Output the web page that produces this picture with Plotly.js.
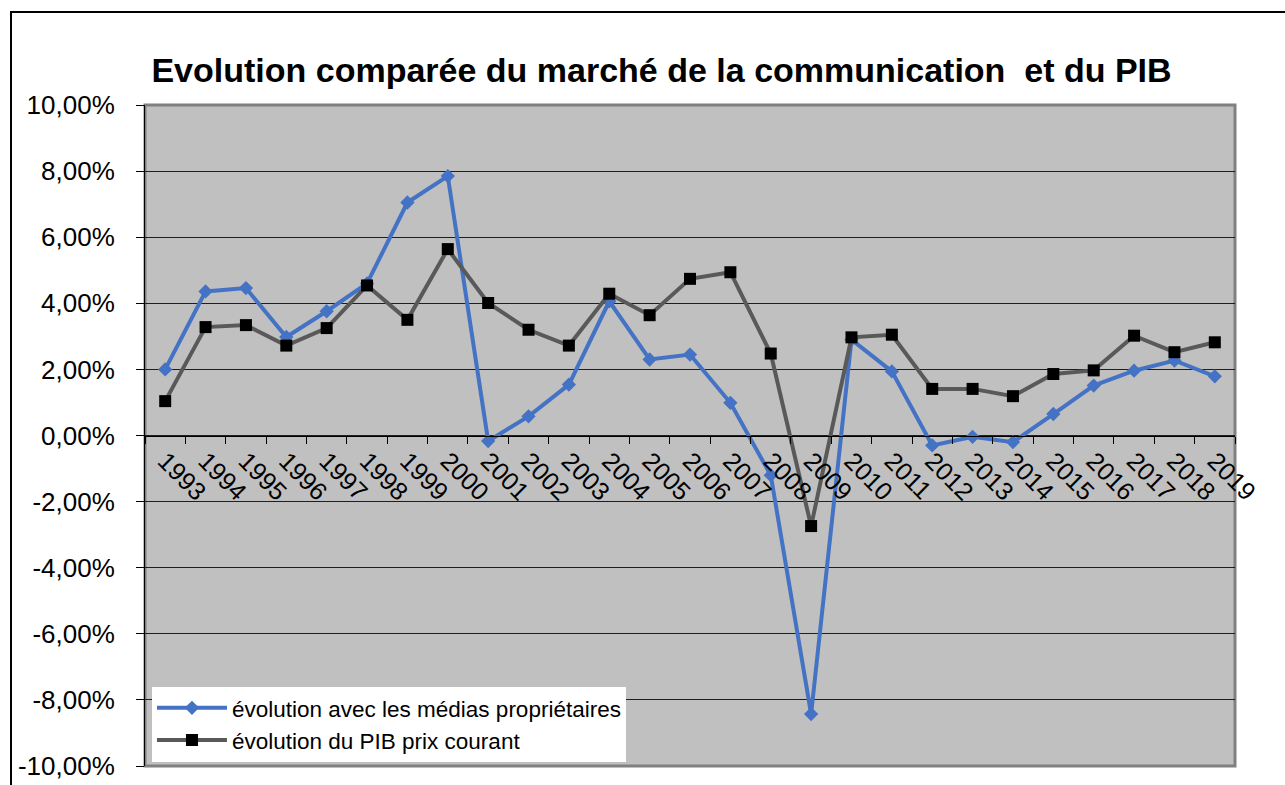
<!DOCTYPE html>
<html>
<head>
<meta charset="utf-8">
<script src="https://cdn.plot.ly/plotly-3.0.1.min.js"></script>
<style>
html,body{margin:0;padding:0;overflow:hidden;background:#fff;}
#chart{position:absolute;left:0;top:0;width:1285px;height:785px;}
#frame{position:absolute;left:10px;top:11px;width:2000px;height:2000px;border-left:2px solid #000;border-top:2px solid #000;pointer-events:none;}
</style>
</head>
<body>
<div id="chart"></div>
<div id="frame"></div>
<script>
const years = ['1993','1994','1995','1996','1997','1998','1999','2000','2001','2002','2003','2004','2005','2006','2007','2008','2009','2010','2011','2012','2013','2014','2015','2016','2017','2018','2019'];
const mediasProprietaires = [2.00,4.36,4.46,2.98,3.76,4.60,7.05,7.85,-0.17,0.58,1.54,4.06,2.30,2.45,0.99,-1.20,-8.43,2.90,1.94,-0.30,-0.04,-0.20,0.65,1.51,1.96,2.27,1.79];
const pibPrixCourant = [1.04,3.28,3.34,2.72,3.25,4.54,3.50,5.64,4.01,3.20,2.72,4.29,3.64,4.74,4.94,2.48,-2.74,2.97,3.05,1.41,1.41,1.19,1.86,1.97,3.02,2.52,2.82];
const yTickVals = [-10,-8,-6,-4,-2,0,2,4,6,8,10];
const yTickLabels = ['-10,00%','-8,00%','-6,00%','-4,00%','-2,00%','0,00%','2,00%','4,00%','6,00%','8,00%','10,00%'];
const seriesNames = ['évolution avec les médias propriétaires','évolution du PIB prix courant'];
const chartTitle = 'Evolution comparée du marché de la communication\u00a0 et du PIB';

const FONT = 'Liberation Sans, Arial, sans-serif';

const traces = [
  {
    x: years, y: mediasProprietaires, name: seriesNames[0], type: 'scatter', mode: 'lines+markers',
    line: {color: '#4472C4', width: 4},
    marker: {symbol: 'diamond', size: 11, color: '#4472C4'}
  },
  {
    x: years, y: pibPrixCourant, name: seriesNames[1], type: 'scatter', mode: 'lines+markers',
    line: {color: '#595959', width: 4},
    marker: {symbol: 'square', size: 12, color: '#000000'}
  }
];

const layout = {
  width: 1285, height: 785,
  margin: {l: 145, r: 50, t: 105, b: 19, pad: 0},
  paper_bgcolor: '#ffffff',
  plot_bgcolor: '#C0C0C0',
  font: {family: FONT, color: '#000'},
  showlegend: true,
  title: {
    text: chartTitle,
    font: {family: FONT, size: 34, color: '#000', weight: 'bold'},
    x: 0.5148, xref: 'container', xanchor: 'center',
    y: 0.911, yref: 'container', yanchor: 'middle'
  },
  xaxis: {
    type: 'category',
    anchor: 'free', position: 0.5,
    showgrid: false, zeroline: false,
    showline: true, linecolor: '#000', linewidth: 1,
    ticks: 'outside', ticklen: 7, tickcolor: '#000', tickwidth: 1,
    tickson: 'boundaries',
    tickangle: 45,
    tickfont: {family: FONT, size: 25, color: '#000'},
    range: [-0.5, 26.5],
    automargin: false
  },
  yaxis: {
    range: [-10, 10],
    tickvals: yTickVals, ticktext: yTickLabels,
    showgrid: true, gridcolor: '#1e1e1e', gridwidth: 1,
    zeroline: false,
    showline: true, linecolor: '#000', linewidth: 1,
    ticks: 'outside', ticklen: 8, tickcolor: '#000', tickwidth: 1,
    ticklabelstandoff: 16,
    tickfont: {family: FONT, size: 26, color: '#000'},
    automargin: false
  },
  legend: {
    x: 0.0064, y: 0.12, xanchor: 'left', yanchor: 'top',
    bgcolor: '#ffffff', borderwidth: 0,
    font: {family: FONT, size: 22.5, color: '#000'},
    itemwidth: 70
  },
  shapes: [
    {type: 'rect', xref: 'paper', yref: 'paper', x0: 0, x1: 1, y0: 0, y1: 1,
     line: {color: '#808080', width: 3}, layer: 'below'}
  ]
};

Plotly.newPlot('chart', traces, layout, {displayModeBar: false, staticPlot: true});
</script>
</body>
</html>
